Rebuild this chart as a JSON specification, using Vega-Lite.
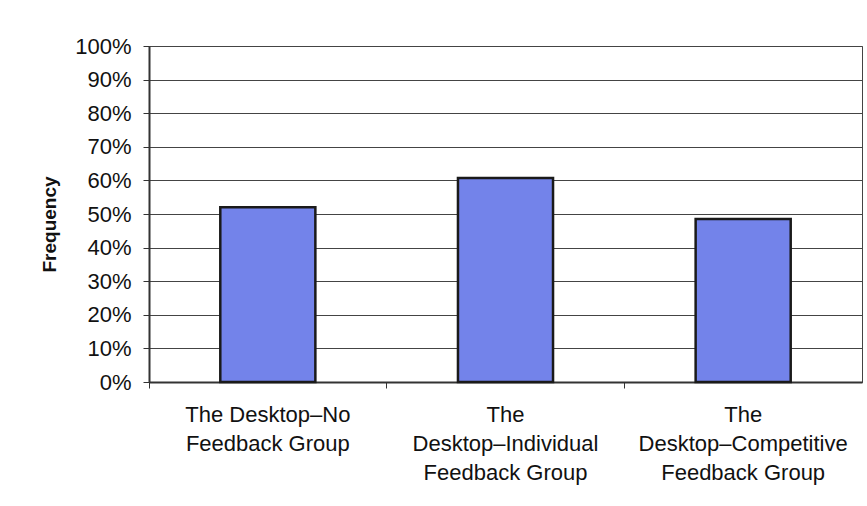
{
  "$schema": "https://vega.github.io/schema/vega-lite/v6.json",
  "width": 713,
  "height": 336,
  "autosize": {"type": "none"},
  "padding": {"left": 149, "top": 46, "right": 5, "bottom": 124},
  "background": "white",
  "data": {
    "values": [
      {"group": "The Desktop–No Feedback Group", "frequency": 0.52},
      {"group": "The Desktop–Individual Feedback Group", "frequency": 0.607},
      {"group": "The Desktop–Competitive Feedback Group", "frequency": 0.485}
    ]
  },
  "mark": {"type": "bar", "fill": "#7383EA", "stroke": "#1a1a1a", "strokeWidth": 2.5},
  "encoding": {
    "x": {
      "field": "group",
      "type": "nominal",
      "sort": null,
      "scale": {"paddingInner": 0.6, "paddingOuter": 0.3},
      "axis": {
        "title": null,
        "labelAngle": 0,
        "labelFont": "Liberation Sans",
        "labelFontSize": 22,
        "labelColor": "#111",
        "labelLineHeight": 29,
        "labelPadding": 16,
        "labelLimit": 300,
        "labelExpr": "datum.label == 'The Desktop–No Feedback Group' ? ['The Desktop–No', 'Feedback Group'] : datum.label == 'The Desktop–Individual Feedback Group' ? ['The', 'Desktop–Individual', 'Feedback Group'] : ['The', 'Desktop–Competitive', 'Feedback Group']",
        "bandPosition": -0.75,
        "ticks": true,
        "tickSize": 6,
        "tickColor": "#333",
        "domainColor": "#333",
        "domainWidth": 2,
        "grid": false
      }
    },
    "y": {
      "field": "frequency",
      "type": "quantitative",
      "scale": {"domain": [0, 1]},
      "axis": {
        "title": "Frequency",
        "titleFont": "Liberation Sans",
        "titleFontSize": 19,
        "titleFontWeight": "bold",
        "titleColor": "#111",
        "titlePadding": 15,
        "titleY": 178,
        "values": [0, 0.1, 0.2, 0.3, 0.4, 0.5, 0.6, 0.7, 0.8, 0.9, 1],
        "format": ".0%",
        "labelFont": "Liberation Sans",
        "labelFontSize": 22,
        "labelColor": "#111",
        "labelPadding": 12,
        "tickSize": 6,
        "tickColor": "#333",
        "domainColor": "#333",
        "domainWidth": 2,
        "grid": true,
        "gridColor": "#444",
        "gridWidth": 1
      }
    }
  },
  "config": {
    "view": {"stroke": "#444", "strokeWidth": 1}
  }
}
